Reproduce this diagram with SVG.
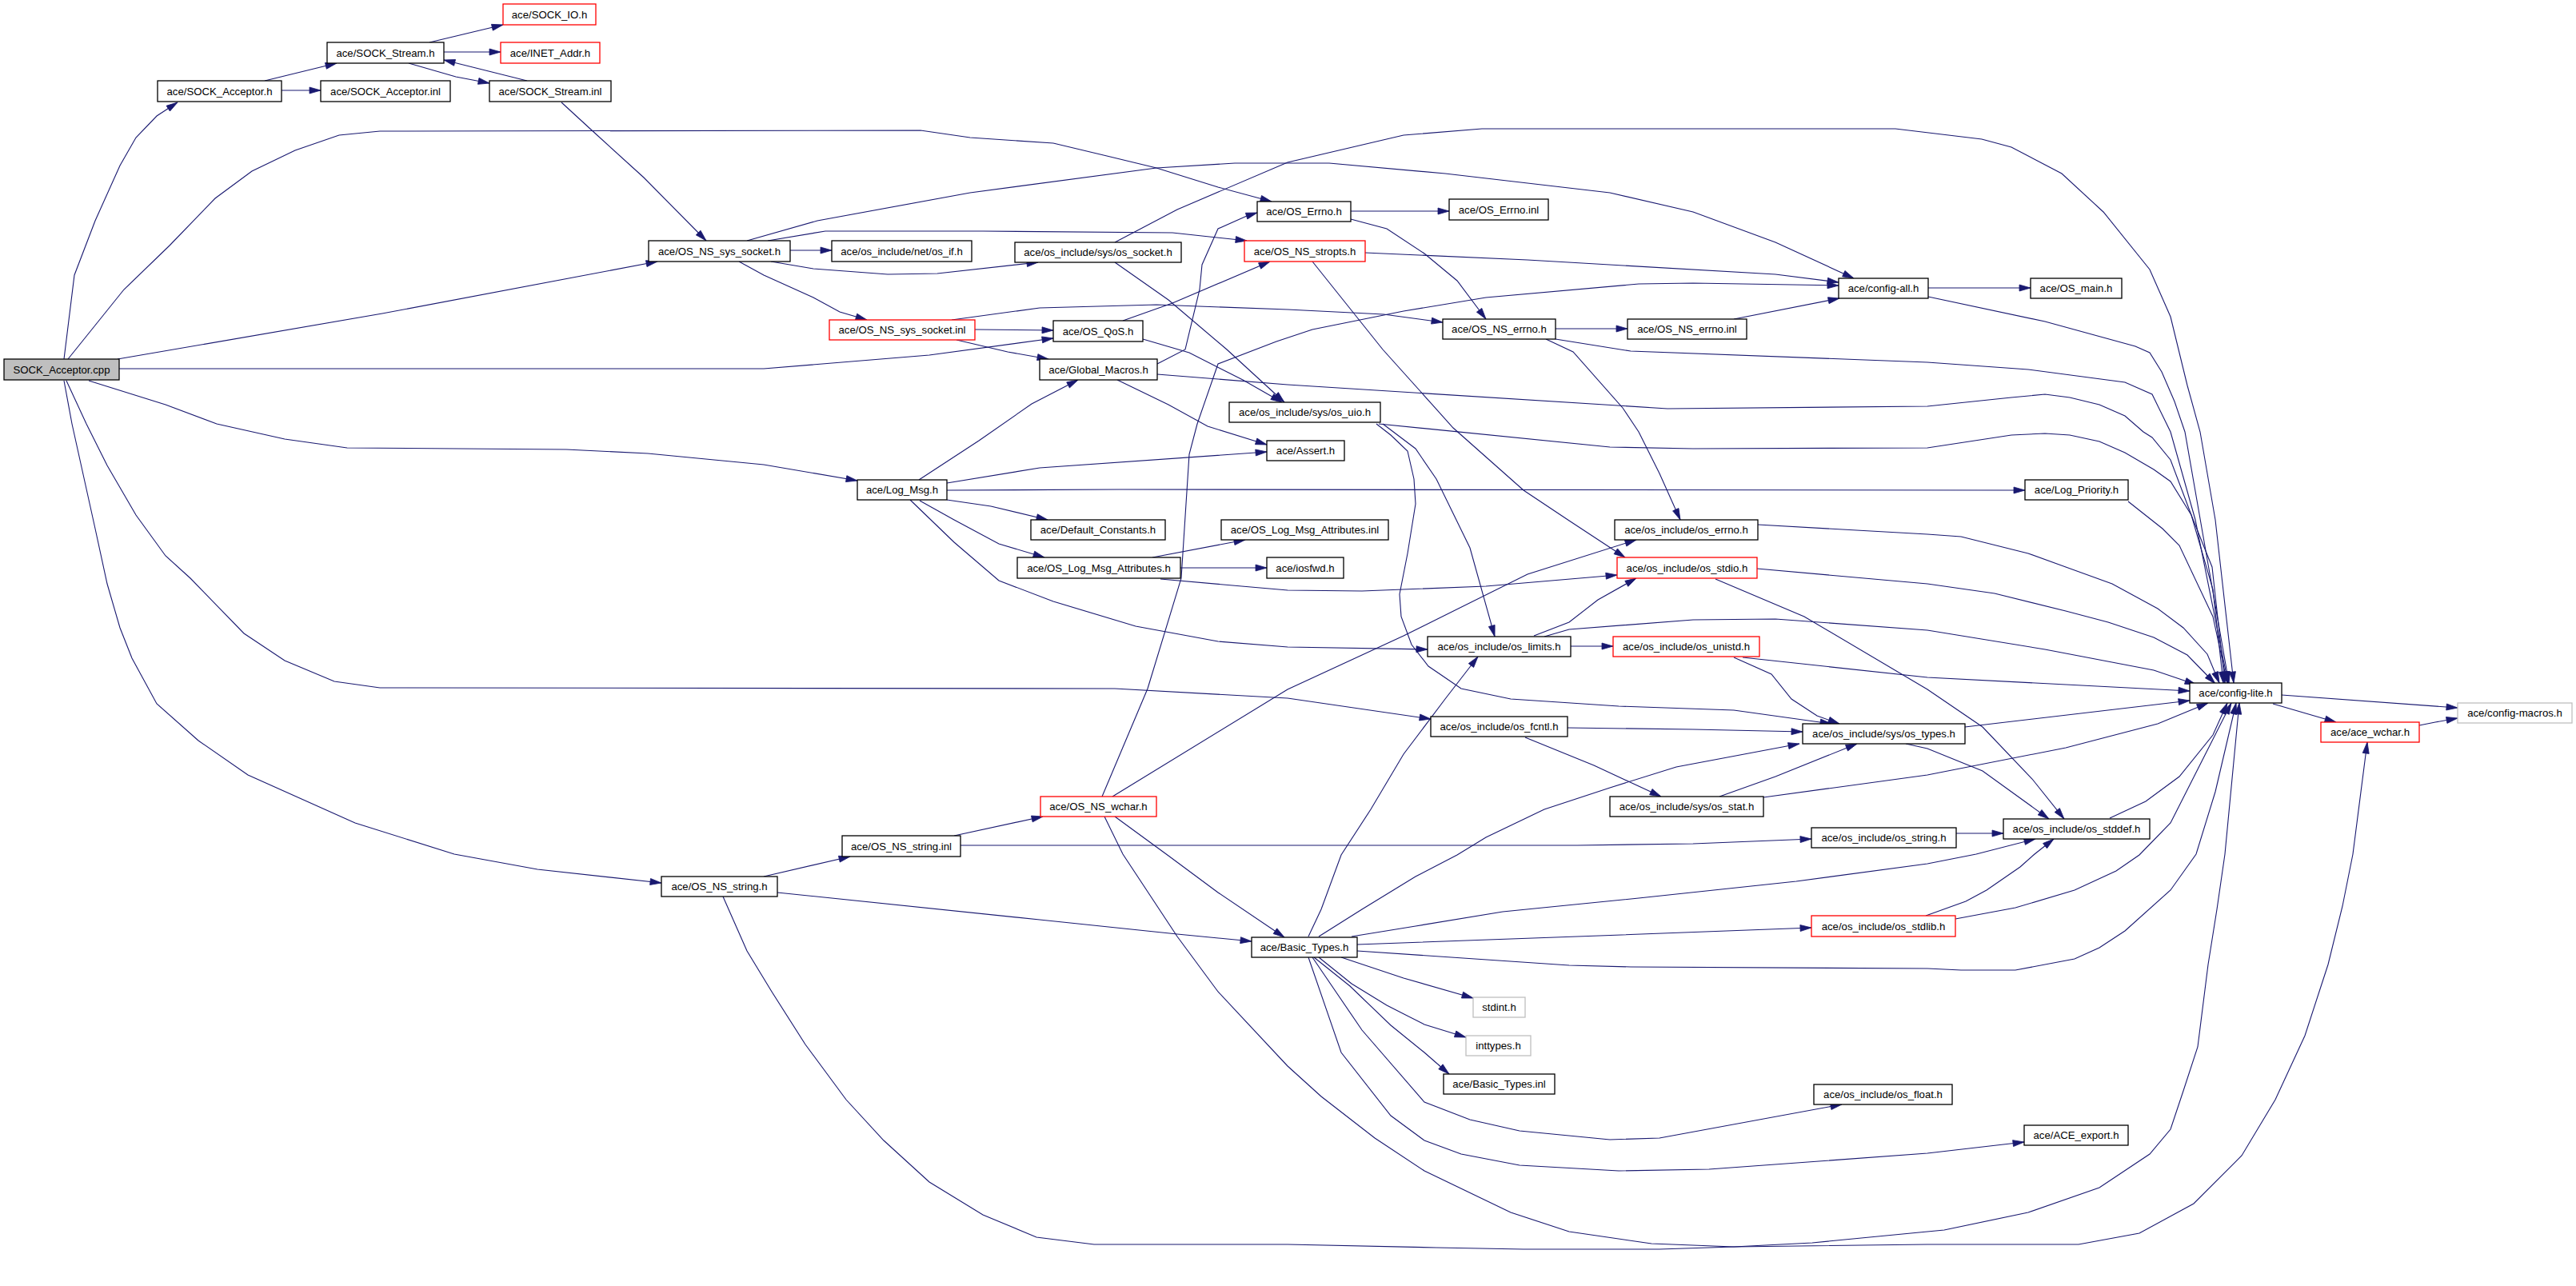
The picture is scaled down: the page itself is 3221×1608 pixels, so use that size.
<svg xmlns="http://www.w3.org/2000/svg" width="3221" height="1608" viewBox="0 0 3221 1608">
<style>
.n rect{fill:#ffffff;stroke:#000000;stroke-width:1.3}
.n.red rect{stroke:#ff0000}
.n.ext rect{stroke:#bfbfbf}
.n.root rect{fill:#bfbfbf}
.n text{font-family:"Liberation Sans",Arial,Helvetica,sans-serif;font-size:13.2px;fill:#000000;text-anchor:middle}
.e path{fill:none;stroke:#191970;stroke-width:1.1;marker-end:url(#arr)}
</style>
<defs>
<marker id="arr" markerUnits="userSpaceOnUse" markerWidth="14" markerHeight="8" refX="14" refY="4" orient="auto" overflow="visible">
<path d="M0,0 L14,4 L0,8 Z" fill="#191970" stroke="#191970" stroke-width="0.8"/>
</marker>
</defs>
<rect x="0" y="0" width="3221" height="1608" fill="#ffffff"/>
<g id="edges" class="e">
<path d="M80,449 L93,344 L119,276 L150,207 L170,172 L196,145 L222,128"/>
<path d="M85,449 L155,362 L212,307 L269,248 L315,214 L369,188 L424,169 L475,164 L1151,163 L1213,172 L1317,179 L1384,195 L1446,210 L1523,234 L1590,252"/>
<path d="M147,449 L478,392 L822,327"/>
<path d="M149,461 L955,461 L1162,444 L1317,423"/>
<path d="M111,476 L207,506 L271,530 L356,549 L434,560 L708,562 L810,567 L955,581 L1072,601"/>
<path d="M83,476 L108,530 L134,582 L170,644 L207,695 L238,723 L305,792 L356,826 L418,852 L475,860 L1394,861 L1610,873 L1789,899"/>
<path d="M80,476 L90,530 L119,661 L134,730 L150,785 L165,823 L196,880 L248,926 L310,969 L444,1029 L568,1068 L672,1087 L827,1104"/>
<path d="M331,101 L421,79"/>
<path d="M352,113 L401,113"/>
<path d="M537,53 L629,31"/>
<path d="M555,65 L626,65"/>
<path d="M511,79 L570,96 L612,104"/>
<path d="M659,101 L555,75"/>
<path d="M702,128 L739,162 L805,222 L883,301"/>
<path d="M988,313 L1040,313"/>
<path d="M964,327 L1017,336 L1110,343 L1172,342 L1298,328"/>
<path d="M924,327 L955,344 L1017,372 L1050,390 L1084,400"/>
<path d="M960,301 L1032,289 L1229,289 L1466,291 L1559,301"/>
<path d="M934,301 L1022,276 L1213,241 L1446,210 L1544,204 L1662,204 L1807,217 L2013,241 L2117,265 L2220,303 L2318,348"/>
<path d="M1394,303 L1472,262 L1610,203 L1755,169 L1853,161 L2370,161 L2478,174 L2515,184 L2578,217 L2630,265 L2688,337 L2714,396 L2735,482 L2751,540 L2770,650 L2793,854"/>
<path d="M1394,328 L1461,375 L1534,437 L1606,503"/>
<path d="M1219,412 L1317,413"/>
<path d="M1196,425 L1260,440 L1311,449"/>
<path d="M1190,400 L1300,385 L1446,381 L1610,387 L1730,393 L1804,403"/>
<path d="M1404,401 L1466,379 L1588,327"/>
<path d="M1429,424 L1487,441 L1554,475 L1603,503"/>
<path d="M1447,455 L1482,437 L1500,362 L1503,331 L1523,286 L1559,270 L1572,266"/>
<path d="M1447,468 L1610,481 L2085,511 L2410,508 L2515,497 L2557,493 L2588,497 L2625,506 L2657,520 L2680,540 L2691,547 L2714,575 L2740,644 L2767,737 L2780,854"/>
<path d="M1397,475 L1461,506 L1510,533 L1584,556"/>
<path d="M1149,600 L1224,551 L1290,505 L1348,475"/>
<path d="M1184,604 L1300,585 L1584,565"/>
<path d="M1184,613 L1400,612 L2532,613"/>
<path d="M1184,625 L1239,633 L1310,650"/>
<path d="M1150,626 L1193,650 L1249,680 L1306,697"/>
<path d="M1138,625 L1193,678 L1249,726 L1317,752 L1420,783 L1523,802 L1610,809 L1785,812"/>
<path d="M1441,697 L1557,675"/>
<path d="M1476,710 L1584,710"/>
<path d="M1451,724 L1610,738 L1703,739 L1858,733 L2022,719"/>
<path d="M1689,264 L1812,264"/>
<path d="M1689,274 L1734,286 L1781,317 L1822,351 L1858,399"/>
<path d="M1707,316 L1910,325 L2220,343 L2299,353"/>
<path d="M1641,327 L1729,437 L1817,535 L1905,613 L1962,651 L2032,697"/>
<path d="M2411,360 L2539,360"/>
<path d="M2411,371 L2557,402 L2670,433 L2688,441 L2703,465 L2719,502 L2732,540 L2760,700 L2787,854"/>
<path d="M1945,411 L2035,411"/>
<path d="M1933,424 L1967,440 L2029,510 L2049,540 L2075,592 L2101,650"/>
<path d="M1945,424 L2039,439 L2410,453 L2536,462 L2657,478 L2691,493 L2714,540 L2745,650 L2786,854"/>
<path d="M2168,399 L2300,373"/>
<path d="M1729,530 L1770,561 L1796,599 L1838,685 L1869,796"/>
<path d="M1721,530 L1739,544 L1760,564 L1768,599 L1770,630 L1760,692 L1750,743 L1752,771 L1765,806 L1786,833 L1827,861 L1889,874 L2024,883 L2168,888 L2290,905"/>
<path d="M1724,530 L2013,559 L2117,561 L2410,560 L2515,544 L2557,542 L2588,544 L2625,552 L2657,566 L2693,587 L2714,602 L2740,644 L2766,709 L2782,854"/>
<path d="M2661,627 L2704,661 L2725,682 L2767,771 L2785,854"/>
<path d="M2198,656 L2410,668 L2452,671 L2536,692 L2583,709 L2641,730 L2698,761 L2730,785 L2760,818 L2775,854"/>
<path d="M2197,711 L2410,730 L2494,742 L2583,764 L2636,778 L2693,797 L2735,819 L2770,855"/>
<path d="M2145,724 L2256,771 L2410,862 L2479,909 L2541,974 L2581,1024"/>
<path d="M1964,808 L2017,808"/>
<path d="M1918,795 L1962,778 L1998,750 L2046,723"/>
<path d="M1931,796 L1962,787 L2117,775 L2220,774 L2410,788 L2557,812 L2693,838 L2746,856"/>
<path d="M2168,822 L2215,843 L2240,874 L2272,895 L2300,905"/>
<path d="M2179,822 L2410,847 L2738,864"/>
<path d="M1960,910 L2117,912 L2254,915"/>
<path d="M1907,922 L1993,957 L2077,996"/>
<path d="M2150,996 L2220,971 L2322,930"/>
<path d="M2205,997 L2410,969 L2583,935 L2698,905 L2761,879"/>
<path d="M2457,909 L2738,876"/>
<path d="M2383,930 L2410,936 L2479,964 L2562,1024"/>
<path d="M2445,1042 L2505,1042"/>
<path d="M2853,869 L3073,885"/>
<path d="M2842,880 L2921,903"/>
<path d="M3025,907 L3045,903 L3073,898"/>
<path d="M2638,1023 L2683,1002 L2725,971 L2767,919 L2785,879"/>
<path d="M2445,1149 L2520,1135 L2594,1113 L2646,1089 L2675,1069 L2714,1029 L2790,879"/>
<path d="M2408,1145 L2458,1127 L2484,1113 L2526,1084 L2544,1068 L2568,1049"/>
<path d="M1636,1171 L1652,1137 L1677,1069 L1714,1012 L1755,943 L1807,874 L1848,821"/>
<path d="M1649,1171 L1703,1137 L1770,1096 L1822,1069 L1858,1047 L1931,1012 L2013,985 L2096,959 L2250,930"/>
<path d="M1690,1171 L1770,1158 L1879,1140 L2049,1123 L2246,1102 L2410,1080 L2471,1068 L2545,1049"/>
<path d="M1697,1181 L2000,1170 L2265,1160"/>
<path d="M1697,1189 L1962,1207 L2039,1209 L2410,1211 L2452,1213 L2520,1213 L2594,1199 L2625,1185 L2657,1164 L2714,1113 L2746,1068 L2770,990 L2796,879"/>
<path d="M1677,1197 L1755,1223 L1842,1248"/>
<path d="M1649,1197 L1690,1230 L1734,1257 L1781,1281 L1833,1297"/>
<path d="M1643,1197 L1688,1233 L1739,1282 L1781,1316 L1812,1343"/>
<path d="M1641,1197 L1703,1288 L1781,1378 L1838,1400 L1900,1414 L2013,1425 L2075,1423 L2303,1381"/>
<path d="M1636,1197 L1677,1316 L1739,1395 L1781,1426 L1827,1443 L1900,1457 L2024,1464 L2137,1462 L2410,1442 L2531,1428"/>
<path d="M1378,996 L1435,861 L1477,723 L1487,568 L1497,530 L1523,455 L1596,427 L1641,412 L1755,389 L1858,372 L2049,355 L2117,354 L2299,357"/>
<path d="M1391,996 L1610,862 L1755,795 L1910,718 L2046,675"/>
<path d="M1394,1021 L1461,1070 L1523,1116 L1606,1172"/>
<path d="M1381,1021 L1404,1068 L1472,1171 L1523,1240 L1610,1333 L1652,1371 L1719,1423 L1781,1464 L1889,1516 L1962,1540 L2065,1555 L2168,1559 L2266,1554 L2410,1540 L2431,1538 L2536,1516 L2625,1485 L2688,1443 L2714,1412 L2730,1364 L2748,1309 L2761,1206 L2772,1137 L2782,1068 L2800,879"/>
<path d="M904,1121 L934,1189 L965,1240 L1007,1306 L1058,1375 L1105,1426 L1162,1478 L1229,1519 L1296,1547 L1368,1556 L1610,1556 L1796,1560 L1905,1562 L2075,1562 L2168,1559 L2410,1556 L2599,1556 L2675,1542 L2743,1505 L2803,1445 L2845,1375 L2882,1295 L2911,1206 L2929,1133 L2942,1068 L2960,928"/>
<path d="M955,1096 L1063,1071"/>
<path d="M972,1116 L1300,1150 L1472,1168 L1565,1177"/>
<path d="M1193,1045 L1304,1021"/>
<path d="M1201,1057 L1610,1057 L1972,1057 L2117,1055 L2265,1049"/>
</g>
<g id="n_cpp" class="n root"><rect x="5" y="449" width="144" height="26"/><text x="77" y="466.7">SOCK_Acceptor.cpp</text></g>
<g id="n_sockacc_h" class="n"><rect x="197" y="101" width="155" height="26"/><text x="274.5" y="118.7">ace/SOCK_Acceptor.h</text></g>
<g id="n_sockstream_h" class="n"><rect x="409" y="53" width="146" height="26"/><text x="482" y="70.7">ace/SOCK_Stream.h</text></g>
<g id="n_sockacc_inl" class="n"><rect x="401" y="101" width="162" height="26"/><text x="482" y="118.7">ace/SOCK_Acceptor.inl</text></g>
<g id="n_sockio_h" class="n red"><rect x="629" y="5" width="116" height="26"/><text x="687" y="22.7">ace/SOCK_IO.h</text></g>
<g id="n_inet_addr" class="n red"><rect x="626" y="53" width="124" height="26"/><text x="688" y="70.7">ace/INET_Addr.h</text></g>
<g id="n_sockstream_inl" class="n"><rect x="612" y="101" width="152" height="26"/><text x="688" y="118.7">ace/SOCK_Stream.inl</text></g>
<g id="n_ns_sys_socket_h" class="n"><rect x="811" y="301" width="177" height="26"/><text x="899.5" y="318.7">ace/OS_NS_sys_socket.h</text></g>
<g id="n_os_if" class="n"><rect x="1040" y="301" width="175" height="26"/><text x="1127.5" y="318.7">ace/os_include/net/os_if.h</text></g>
<g id="n_os_socket" class="n"><rect x="1269" y="303" width="208" height="25"/><text x="1373" y="320.2">ace/os_include/sys/os_socket.h</text></g>
<g id="n_ns_sys_socket_inl" class="n red"><rect x="1037" y="400" width="182" height="25"/><text x="1128" y="417.2">ace/OS_NS_sys_socket.inl</text></g>
<g id="n_os_qos" class="n"><rect x="1317" y="401" width="112" height="26"/><text x="1373" y="418.7">ace/OS_QoS.h</text></g>
<g id="n_global_macros" class="n"><rect x="1300" y="449" width="147" height="26"/><text x="1373.5" y="466.7">ace/Global_Macros.h</text></g>
<g id="n_os_errno_h" class="n"><rect x="1572" y="252" width="117" height="25"/><text x="1630.5" y="269.2">ace/OS_Errno.h</text></g>
<g id="n_os_errno_inl" class="n"><rect x="1812" y="249" width="124" height="26"/><text x="1874" y="266.7">ace/OS_Errno.inl</text></g>
<g id="n_ns_stropts" class="n red"><rect x="1556" y="301" width="151" height="26"/><text x="1631.5" y="318.7">ace/OS_NS_stropts.h</text></g>
<g id="n_config_all" class="n"><rect x="2299" y="348" width="112" height="25"/><text x="2355" y="365.2">ace/config-all.h</text></g>
<g id="n_os_main" class="n"><rect x="2539" y="348" width="114" height="25"/><text x="2596" y="365.2">ace/OS_main.h</text></g>
<g id="n_ns_errno_h" class="n"><rect x="1804" y="399" width="141" height="25"/><text x="1874.5" y="416.2">ace/OS_NS_errno.h</text></g>
<g id="n_ns_errno_inl" class="n"><rect x="2035" y="399" width="149" height="25"/><text x="2109.5" y="416.2">ace/OS_NS_errno.inl</text></g>
<g id="n_os_uio" class="n"><rect x="1537" y="503" width="189" height="25"/><text x="1631.5" y="520.2">ace/os_include/sys/os_uio.h</text></g>
<g id="n_log_msg" class="n"><rect x="1072" y="600" width="112" height="25"/><text x="1128" y="617.2">ace/Log_Msg.h</text></g>
<g id="n_assert" class="n"><rect x="1584" y="551" width="97" height="25"/><text x="1632.5" y="568.2">ace/Assert.h</text></g>
<g id="n_default_constants" class="n"><rect x="1289" y="650" width="168" height="25"/><text x="1373" y="667.2">ace/Default_Constants.h</text></g>
<g id="n_log_msg_attr_h" class="n"><rect x="1272" y="697" width="204" height="26"/><text x="1374" y="714.7">ace/OS_Log_Msg_Attributes.h</text></g>
<g id="n_log_msg_attr_inl" class="n"><rect x="1527" y="650" width="209" height="25"/><text x="1631.5" y="667.2">ace/OS_Log_Msg_Attributes.inl</text></g>
<g id="n_iosfwd" class="n"><rect x="1584" y="697" width="96" height="26"/><text x="1632" y="714.7">ace/iosfwd.h</text></g>
<g id="n_log_priority" class="n"><rect x="2532" y="600" width="129" height="25"/><text x="2596.5" y="617.2">ace/Log_Priority.h</text></g>
<g id="n_os_errno_inc" class="n"><rect x="2019" y="650" width="179" height="25"/><text x="2108.5" y="667.2">ace/os_include/os_errno.h</text></g>
<g id="n_os_stdio" class="n red"><rect x="2022" y="697" width="175" height="26"/><text x="2109.5" y="714.7">ace/os_include/os_stdio.h</text></g>
<g id="n_os_limits" class="n"><rect x="1785" y="796" width="179" height="25"/><text x="1874.5" y="813.2">ace/os_include/os_limits.h</text></g>
<g id="n_os_unistd" class="n red"><rect x="2017" y="796" width="183" height="25"/><text x="2108.5" y="813.2">ace/os_include/os_unistd.h</text></g>
<g id="n_os_fcntl" class="n"><rect x="1789" y="896" width="171" height="25"/><text x="1874.5" y="913.2">ace/os_include/os_fcntl.h</text></g>
<g id="n_os_types" class="n"><rect x="2254" y="905" width="203" height="25"/><text x="2355.5" y="922.2">ace/os_include/sys/os_types.h</text></g>
<g id="n_os_stat" class="n"><rect x="2013" y="996" width="192" height="25"/><text x="2109" y="1013.2">ace/os_include/sys/os_stat.h</text></g>
<g id="n_os_string" class="n"><rect x="2265" y="1035" width="181" height="25"/><text x="2355.5" y="1052.2">ace/os_include/os_string.h</text></g>
<g id="n_config_lite" class="n"><rect x="2738" y="854" width="115" height="25"/><text x="2795.5" y="871.2">ace/config-lite.h</text></g>
<g id="n_config_macros" class="n ext"><rect x="3073" y="879" width="143" height="25"/><text x="3144.5" y="896.2">ace/config-macros.h</text></g>
<g id="n_ace_wchar" class="n red"><rect x="2902" y="903" width="123" height="25"/><text x="2963.5" y="920.2">ace/ace_wchar.h</text></g>
<g id="n_os_stddef" class="n"><rect x="2505" y="1024" width="183" height="25"/><text x="2596.5" y="1041.2">ace/os_include/os_stddef.h</text></g>
<g id="n_ns_wchar" class="n red"><rect x="1301" y="996" width="145" height="25"/><text x="1373.5" y="1013.2">ace/OS_NS_wchar.h</text></g>
<g id="n_ns_string_inl" class="n"><rect x="1053" y="1045" width="148" height="26"/><text x="1127" y="1062.7">ace/OS_NS_string.inl</text></g>
<g id="n_ns_string_h" class="n"><rect x="827" y="1096" width="145" height="25"/><text x="899.5" y="1113.2">ace/OS_NS_string.h</text></g>
<g id="n_basic_types_h" class="n"><rect x="1565" y="1172" width="132" height="25"/><text x="1631" y="1189.2">ace/Basic_Types.h</text></g>
<g id="n_stdint" class="n ext"><rect x="1842" y="1247" width="65" height="25"/><text x="1874.5" y="1264.2">stdint.h</text></g>
<g id="n_inttypes" class="n ext"><rect x="1833" y="1295" width="81" height="25"/><text x="1873.5" y="1312.2">inttypes.h</text></g>
<g id="n_basic_types_inl" class="n"><rect x="1805" y="1343" width="139" height="25"/><text x="1874.5" y="1360.2">ace/Basic_Types.inl</text></g>
<g id="n_os_stdlib" class="n red"><rect x="2265" y="1145" width="180" height="26"/><text x="2355" y="1162.7">ace/os_include/os_stdlib.h</text></g>
<g id="n_os_float" class="n"><rect x="2268" y="1356" width="173" height="25"/><text x="2354.5" y="1373.2">ace/os_include/os_float.h</text></g>
<g id="n_ace_export" class="n"><rect x="2531" y="1407" width="130" height="25"/><text x="2596" y="1424.2">ace/ACE_export.h</text></g>
</svg>
